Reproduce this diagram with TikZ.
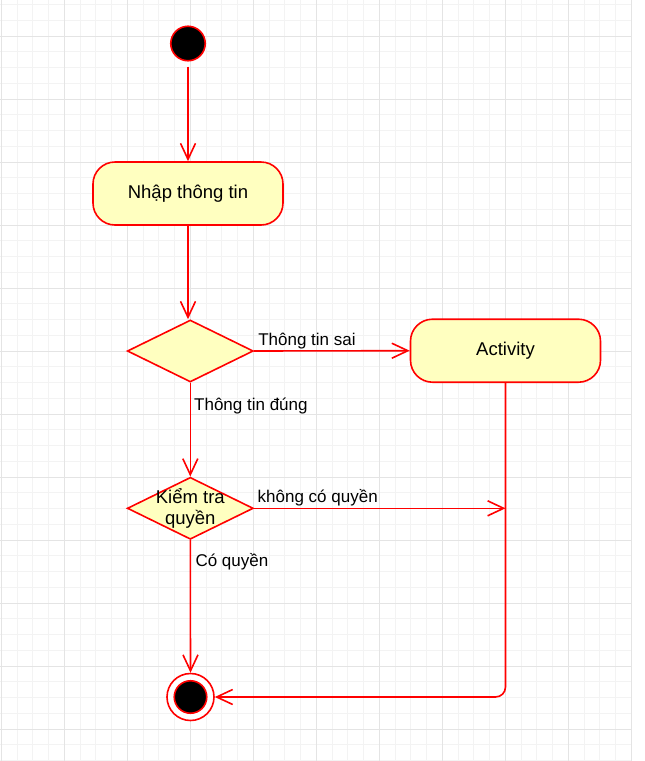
\documentclass[tikz,border=0pt]{standalone}
\usepackage{fontspec}
\setmainfont{Liberation Sans}
\usetikzlibrary{shapes.geometric,arrows.meta}
\definecolor{umlred}{HTML}{FF0000}
\definecolor{umlfill}{HTML}{FFFFC0}
\definecolor{gridmajor}{HTML}{E4E4E4}
\definecolor{gridminor}{HTML}{F3F3F3}
\begin{document}
\begin{tikzpicture}[x=1pt,y=-1pt,
  actbox/.style={draw=umlred, fill=umlfill, line width=1.6pt, rounded corners=22pt,
    minimum width=190pt, minimum height=63pt, inner sep=0pt,
    font=\fontsize{18.5}{22}\selectfont},
  dec/.style={diamond, draw=umlred, fill=umlfill, line width=1.6pt,
    minimum width=126pt, minimum height=62pt, inner sep=0pt},
  dectext/.style={align=center, font=\fontsize{18.5}{21}\selectfont, inner sep=0pt},
  lbl/.style={font=\fontsize{17}{20}\selectfont, inner sep=0pt, anchor=base west},
  flow/.style={draw=umlred, line width=1.6pt,
    -{Straight Barb[length=16pt,width=15pt,line width=1.6pt]}},
  startnode/.style={circle, draw=umlred, fill=black, line width=1.6pt, minimum size=34.5pt, inner sep=0pt},
  finouter/.style={circle, draw=umlred, fill=white, line width=1.6pt, minimum size=47pt, inner sep=0pt},
  fininner/.style={circle, draw=umlred, fill=black, line width=1.6pt, minimum size=32.5pt, inner sep=0pt},
  gminor/.style={draw=gridminor, line width=1pt},
  gmajor/.style={draw=gridmajor, line width=1pt}
]
\useasboundingbox (0,0) rectangle (645,761);
\fill[white] (0,0) rectangle (645,761);
% grid
\foreach \k in {0,...,40} \draw[gminor] ({1.3+15.75*\k},0) -- ({1.3+15.75*\k},761);
\foreach \k in {0,...,48} \draw[gminor] (0,{4.5+15.75*\k}) -- (631.3,{4.5+15.75*\k});
\foreach \k in {0,...,10} \draw[gmajor] ({1.3+63*\k},0) -- ({1.3+63*\k},761);
\foreach \k in {0,...,11} \draw[gmajor] (0,{36+63*\k}) -- (631.3,{36+63*\k});

% nodes
\node[startnode] (start) at (188,43.5) {};
\node[actbox] (nhap) at (188,193.5) {Nhập thông tin};
\node[dec] (d1) at (190.3,351) {};
\node[actbox] (act) at (505.5,350.7) {Activity};
\node[dec] (d2) at (190.3,508.3) {};
\node[dectext] (d2text) at (d2.center) {Kiểm tra\\quyền};
\node[finouter] (fin) at (190.5,697) {};
\node[fininner] (fincore) at (fin.center) {};

% connectors
\draw[flow, shorten <=5pt] (start) -- (nhap);
\draw[flow] (nhap.south) -- (nhap.south |- d1.north);
\draw[flow] (d1.east) -- (act.west);
\draw[flow] (d1.south) -- (d2.north);
\coordinate (join) at (act.south |- d2.east);
\draw[flow] (d2.east) -- (join);
\draw[flow] (d2.south) -- (fin.north);
\draw[flow, rounded corners=10pt] (act.south) |- (fin.east);

% labels
\path (d1.east) ++(4,-6) node[lbl] (l1) {Thông tin sai};
\path (d1.south) ++(3.7,28) node[lbl] (l2) {Thông tin đúng};
\path (d2.east) ++(3.4,-6) node[lbl] (l3) {không có quyền};
\path (d2.south) ++(5,26.4) node[lbl] (l4) {Có quyền};
\end{tikzpicture}
\end{document}
